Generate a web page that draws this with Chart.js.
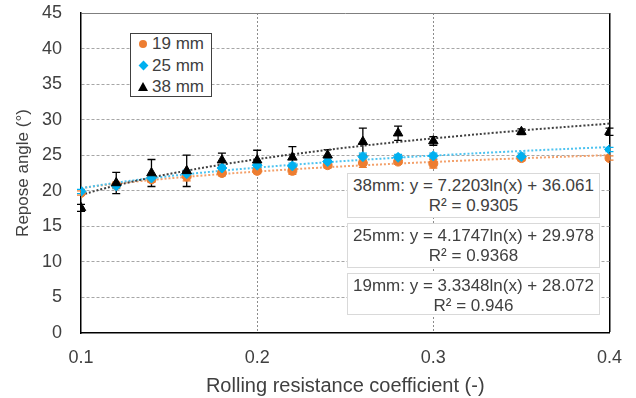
<!DOCTYPE html>
<html>
<head>
<meta charset="utf-8">
<script src="https://cdn.jsdelivr.net/npm/chart.js@4"></script>
<style>
  body { margin: 0; background: #fff; }
  #wrap { position: relative; width: 636px; height: 398px; font-family: "Liberation Sans", Arial, sans-serif; color: #404040; }
  #legend { position: absolute; left: 130px; top: 33px; width: 80px; height: 62px; border: 1.5px solid #404040; background: #fff; font-size: 17px; line-height: 20px; }
  #legend div { position: absolute; left: 21px; }
  #legend span { position: absolute; }
  .dot { width: 8px; height: 8px; border-radius: 50%; background: #ED7D31; top: 6px; left: -13px; }
  .dia { width: 7px; height: 7px; background: #00B0F0; transform: rotate(45deg); top: 6px; left: -12px; }
  .tri { width: 0; height: 0; border-left: 5px solid transparent; border-right: 5px solid transparent; border-bottom: 9px solid #000; top: 5px; left: -14px; }
  .eq { position: absolute; left: 347px; width: 251px; border: 1.2px solid #d9d9d9; background: #fff; font-size: 17px; line-height: 20px; text-align: center; padding-top: 2px; white-space: nowrap; }
</style>
</head>
<body>
<div id="wrap">
  <canvas id="chart"></canvas>
  <div id="legend">
    <div style="top:0px"><span class="dot"></span>19 mm</div>
    <div style="top:22px"><span class="dia"></span>25 mm</div>
    <div style="top:43px"><span class="tri"></span>38 mm</div>
  </div>
  <div class="eq" style="top:173px;height:41px">38mm: y = 7.2203ln(x) + 36.061<br>R² = 0.9305</div>
  <div class="eq" style="top:223px;height:41px">25mm: y = 4.1747ln(x) + 29.978<br>R² = 0.9368</div>
  <div class="eq" style="top:273px;height:38px">19mm: y = 3.3348ln(x) + 28.072<br>R² = 0.946</div>
</div>
<script>
const coefficients = [0.1, 0.12, 0.14, 0.16, 0.18, 0.2, 0.22, 0.24, 0.26, 0.28, 0.3, 0.35, 0.4]

const angle19 = [19.7, 20.8, 21.6, 22.0, 22.5, 22.8, 22.8, 23.6, 23.9, 24.1, 23.8, 24.6, 24.6]
const angle25 = [19.9, 20.7, 21.8, 22.4, 23.2, 23.6, 23.5, 24.1, 24.8, 24.7, 24.9, 24.8, 25.8]
const angle38 = [17.6, 21.1, 22.5, 22.8, 24.3, 24.3, 24.7, 25.0, 26.9, 28.1, 27.0, 28.3, 28.3]

const error19 = [0.3, 0.4, 0.4, 0.6, 0.4, 0.4, 0.5, 0.4, 0.6, 0.4, 0.6, 0.4, 0.3]
const error25 = [0.3, 0.4, 0.4, 0.5, 0.4, 0.4, 0.4, 0.4, 0.5, 0.4, 0.4, 0.5, 0.3]
const error38 = [0.5, 1.5, 1.9, 2.2, 1.0, 1.4, 1.5, 0.8, 1.9, 1.0, 0.6, 0.4, 0.5]

// fitted log trendlines from the equations shown in the chart: [slope, intercept]
const fit19 = [3.3348, 28.072]
const fit25 = [4.1747, 29.978]
const fit38 = [7.2203, 36.061]

const points = (values) => coefficients.map((x, i) => ({ x: x, y: values[i] }))
const trend = (fit) => coefficients.map((x) => ({ x: x, y: fit[0] * Math.log(x) + fit[1] }))

const errorBars = {
  id: "errorBars",
  beforeDatasetsDraw(chart) {
    const ctx = chart.ctx
    const yScale = chart.scales.y
    chart.data.datasets.forEach((dataset, i) => {
      if (!dataset.errors) return
      const meta = chart.getDatasetMeta(i)
      ctx.save()
      ctx.strokeStyle = dataset.errorColor
      ctx.lineWidth = 1.3
      meta.data.forEach((pt, j) => {
        const v = dataset.data[j].y
        const top = yScale.getPixelForValue(v + dataset.errors[j])
        const bottom = yScale.getPixelForValue(v - dataset.errors[j])
        ctx.beginPath()
        ctx.moveTo(pt.x, top)
        ctx.lineTo(pt.x, bottom)
        ctx.moveTo(pt.x - 4, top)
        ctx.lineTo(pt.x + 4, top)
        ctx.moveTo(pt.x - 4, bottom)
        ctx.lineTo(pt.x + 4, bottom)
        ctx.stroke()
      })
      ctx.restore()
    })
  }
}

const family = "'Liberation Sans', Arial, sans-serif"
const isAt = (c, v) => c.tick && Math.abs(c.tick.value - v) < 1e-6

new Chart(document.getElementById("chart"), {
  type: "scatter",
  plugins: [errorBars],
  data: {
    datasets: [
      {
        label: "38 mm",
        data: points(angle38),
        errors: error38,
        errorColor: "#000000",
        pointStyle: "triangle",
        pointRadius: 5.5,
        backgroundColor: "#000000",
        borderColor: "#000000",
        order: 1
      },
      {
        label: "25 mm",
        data: points(angle25),
        errors: error25,
        errorColor: "#00B0F0",
        pointStyle: "rectRot",
        pointRadius: 5,
        backgroundColor: "#00B0F0",
        borderColor: "#00B0F0",
        order: 2
      },
      {
        label: "19 mm",
        data: points(angle19),
        errors: error19,
        errorColor: "#ED7D31",
        pointStyle: "circle",
        pointRadius: 4.5,
        backgroundColor: "#ED7D31",
        borderColor: "#ED7D31",
        order: 3
      },
      {
        label: "38 mm fit",
        data: trend(fit38),
        showLine: true,
        borderColor: "#404040",
        borderWidth: 2,
        borderDash: [2, 2],
        pointRadius: 0,
        tension: 0.4,
        order: 4
      },
      {
        label: "25 mm fit",
        data: trend(fit25),
        showLine: true,
        borderColor: "#4CC3F0",
        borderWidth: 2,
        borderDash: [2, 2],
        pointRadius: 0,
        tension: 0.4,
        order: 5
      },
      {
        label: "19 mm fit",
        data: trend(fit19),
        showLine: true,
        borderColor: "#F3A06A",
        borderWidth: 2,
        borderDash: [2, 2],
        pointRadius: 0,
        tension: 0.4,
        order: 6
      }
    ]
  },
  options: {
    responsive: true,
    maintainAspectRatio: false,
    animation: false,
    layout: { padding: { top: 13, right: 26, left: 0, bottom: 0 } },
    plugins: {
      legend: { display: false },
      tooltip: { enabled: false }
    },
    scales: {
      x: {
        type: "linear",
        min: 0.1,
        max: 0.4,
        afterFit: (scale) => { scale.height = 65 },
        ticks: {
          stepSize: 0.1,
          padding: 14,
          color: "#404040",
          font: { family: family, size: 18 },
          callback: (v) => Number(v).toFixed(1)
        },
        grid: {
          drawTicks: false,
          color: (c) => (isAt(c, 0.4) ? "#000000" : isAt(c, 0.1) ? "rgba(0,0,0,0)" : "#8c8c8c"),
          lineWidth: (c) => (isAt(c, 0.4) ? 1.5 : 1)
        },
        border: {
          color: "#000000",
          width: 1.5,
          dash: (c) => (isAt(c, 0.4) ? [] : [2, 2])
        },
        title: {
          display: true,
          text: "Rolling resistance coefficient (-)",
          color: "#404040",
          font: { family: family, size: 20 },
          padding: { top: 0, bottom: 0 }
        }
      },
      y: {
        min: 0,
        max: 45,
        afterFit: (scale) => { scale.width = 81 },
        ticks: {
          stepSize: 5,
          padding: 0,
          color: "#404040",
          font: { family: family, size: 18 }
        },
        grid: {
          drawTicks: true,
          tickLength: 19,
          tickColor: "rgba(0,0,0,0)",
          color: (c) => (isAt(c, 45) ? "#7f7f7f" : isAt(c, 0) ? "rgba(0,0,0,0)" : "#a6a6a6")
        },
        border: {
          color: "#000000",
          width: 1.5,
          dash: (c) => (isAt(c, 45) ? [] : [3, 2])
        },
        title: {
          display: true,
          text: "Repose angle (°)",
          color: "#404040",
          font: { family: family, size: 17 },
          padding: { top: 13, bottom: 0 }
        }
      }
    }
  }
})
</script>
</body>
</html>
